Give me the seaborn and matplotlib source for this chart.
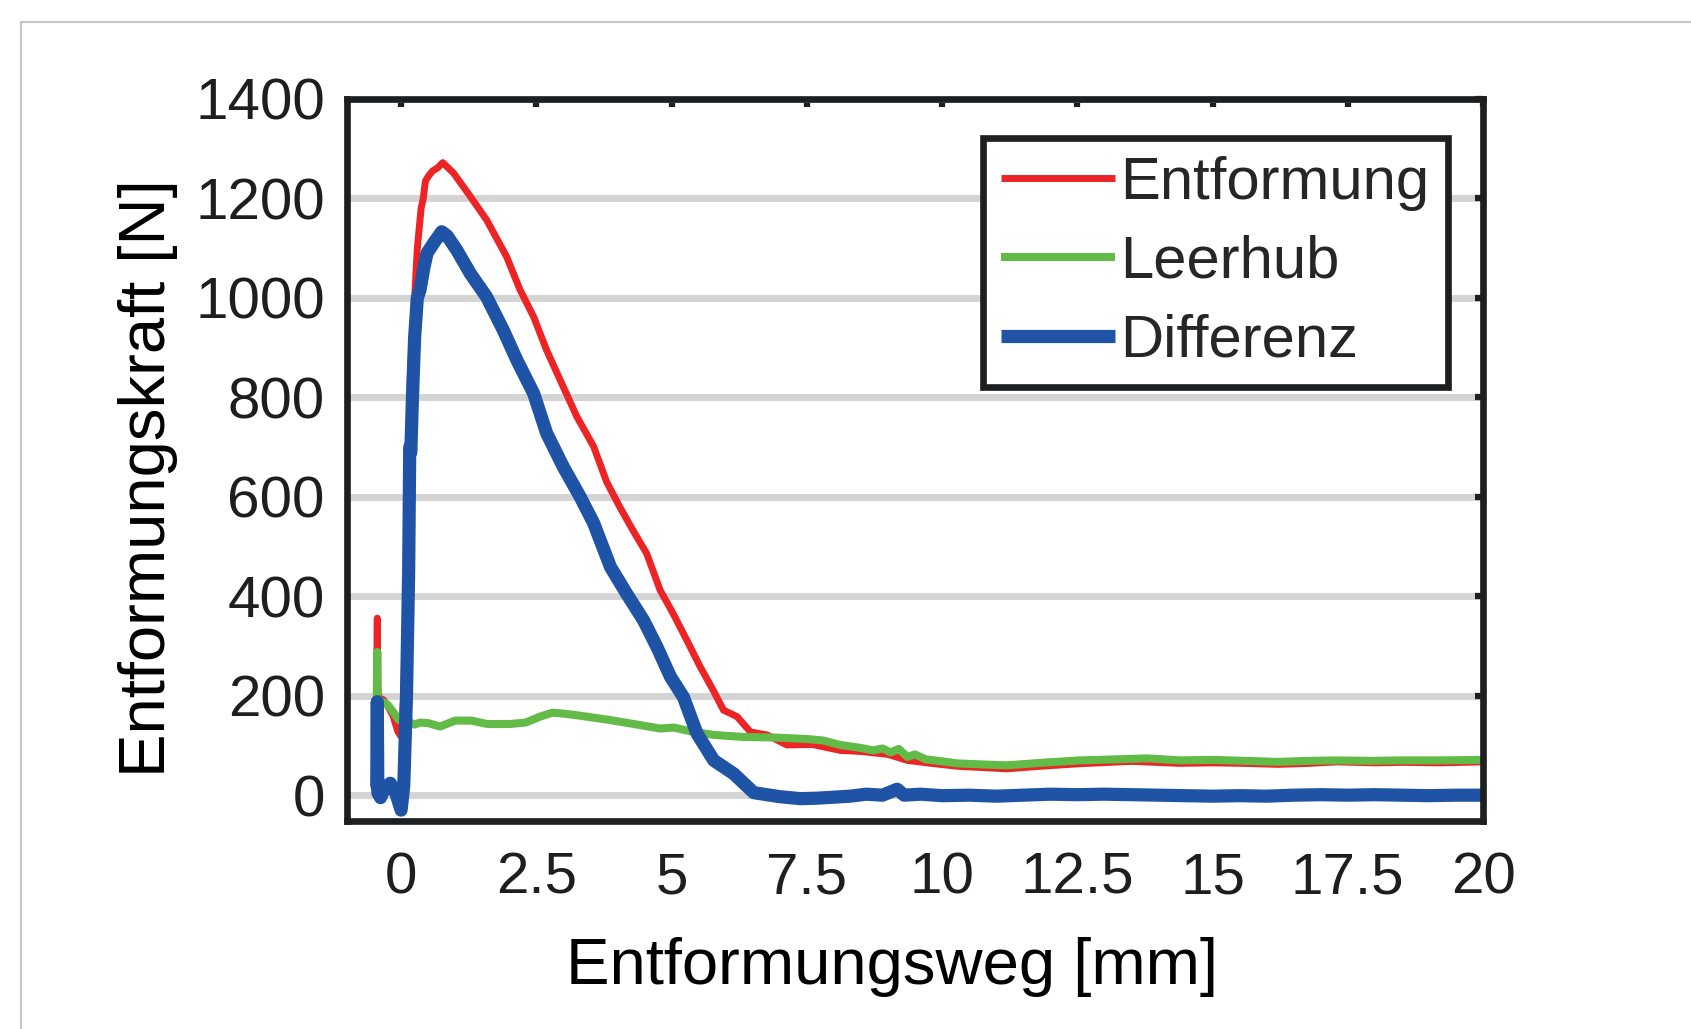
import matplotlib
matplotlib.use("Agg")
import matplotlib.pyplot as plt
import matplotlib.patches as mpatches
import seaborn as sns

# Entformung (rot)
red_x = [-0.45, -0.44, -0.43, -0.40, -0.33, -0.25, -0.15, -0.06, 0.0, 0.05,
         0.10, 0.14, 0.17, 0.20, 0.25, 0.30, 0.37, 0.41, 0.45, 0.50,
         0.58, 0.68, 0.77, 0.97, 1.28, 1.58, 1.95, 2.20, 2.45, 2.69,
         2.94, 3.25, 3.56, 3.80, 4.05, 4.30, 4.54, 4.79, 5.03, 5.28,
         5.53, 5.75, 5.96, 6.21, 6.46, 6.77, 7.13, 7.6, 8.12, 8.5,
         9.0, 9.36, 9.8, 10.3, 11.2, 11.8, 12.5, 13.5, 14.4, 15.0,
         15.6, 16.2, 16.8, 17.3, 18.0, 18.5, 19.2, 20.0]
red_y = [250, 356, 210, 195, 192, 180, 160, 128, 118, 200,
         450, 700, 840, 900, 1000, 1100, 1180, 1200, 1235, 1244,
         1255, 1262, 1272, 1251, 1204, 1157, 1083, 1016, 962, 895,
         835, 761, 701, 630, 578, 530, 486, 412, 365, 312,
         258, 215, 171, 158, 127, 121, 101, 102, 90, 88,
         82, 70, 64, 58, 53, 58, 63, 68, 64, 65,
         64, 62, 64, 67, 65, 66, 65, 67]

# Leerhub (grün)
green_x = [-0.45, -0.44, -0.43, -0.35, -0.25, -0.15, -0.05, 0.05, 0.15, 0.25,
           0.35, 0.5, 0.72, 1.0, 1.3, 1.6, 2.0, 2.3, 2.57, 2.8,
           3.0, 3.3, 3.87, 4.2, 4.79, 5.04, 5.41, 5.8, 6.33, 6.89,
           7.5, 7.8, 8.12, 8.5, 8.73, 8.9, 9.05, 9.2, 9.36, 9.5,
           9.7, 10.0, 10.28, 10.7, 11.2, 11.82, 12.55, 13.2, 13.79, 14.4,
           15.0, 15.6, 16.2, 16.8, 17.3, 17.9, 18.5, 19.2, 20.0]
green_y = [200, 288, 190, 188, 182, 168, 152, 150, 147, 142,
           146, 145, 138, 150, 150, 143, 143, 146, 158, 166,
           164, 160, 151, 145, 134, 136, 127, 121, 117, 116,
           113, 110, 101, 95, 90, 94, 86, 93, 77, 82,
           72, 68, 64, 62, 60, 65, 70, 72, 74, 70,
           71, 69, 67, 69, 70, 69, 70, 70, 71]

# Differenz (blau)
blue_x = [-0.45, -0.44, -0.43, -0.38, -0.3, -0.2, -0.1, 0.0, 0.05, 0.10,
          0.14, 0.16, 0.18, 0.21, 0.25, 0.30, 0.35, 0.42, 0.48, 0.6,
          0.75, 0.85, 1.03, 1.28, 1.58, 1.89, 2.14, 2.45, 2.69, 3.0,
          3.31, 3.56, 3.87, 4.17, 4.48, 4.73, 4.98, 5.22, 5.47, 5.78,
          6.15, 6.52, 7.0, 7.38, 7.7, 8.0, 8.3, 8.6, 8.9, 9.17,
          9.3, 9.6, 10.0, 10.5, 11.0, 11.5, 12.0, 12.5, 13.0, 13.5,
          14.0, 14.5, 15.0, 15.5, 16.0, 16.5, 17.0, 17.5, 18.0, 18.5,
          19.0, 19.5, 20.0]
blue_y = [20, 188, 5, -5, 15, 24, 5, -30, 20, 200,
          450, 700, 690, 800, 920, 1000, 1016, 1060, 1090, 1110,
          1133, 1125, 1096, 1049, 1002, 935, 875, 808, 728, 660,
          600, 547, 459, 405, 352, 298, 238, 197, 124, 70,
          43, 5, -3, -7, -6, -4, -2, 2, 0, 12,
          0, 2, -1, 0, -2, 0, 2, 1, 2, 1,
          0, -1, -2, -1, -2, 0, 1, 0, 1, 0,
          -1, 0, 0]

x_ticks = [0, 2.5, 5, 7.5, 10, 12.5, 15, 17.5, 20]
x_ticklabels = ["0", "2.5", "5", "7.5", "10", "12.5", "15", "17.5", "20"]
y_ticks = [0, 200, 400, 600, 800, 1000, 1200, 1400]

sns.set_theme(style="white")
plt.rcParams["font.family"] = ["Liberation Sans", "DejaVu Sans"]

fig = plt.figure(figsize=(16.91, 10.29), dpi=100)
ax = fig.add_axes([0.2052, 0.2021, 0.6718, 0.7017])

# grauer Rahmen um die Abbildung
fig.patches.append(mpatches.Rectangle((0.0124, -0.5), 2.0, 1.4786, transform=fig.transFigure,
                                      fill=False, edgecolor="#c6c6c9", linewidth=1.6))

kw = dict(ax=ax, estimator=None, sort=False, solid_capstyle="round")
sns.lineplot(x=red_x, y=red_y, color="#ec2426", linewidth=5.0, label="Entformung", **kw)
sns.lineplot(x=green_x, y=green_y, color="#62bb46", linewidth=5.8, label="Leerhub", **kw)
sns.lineplot(x=blue_x, y=blue_y, color="#1f53a5", linewidth=9.5, label="Differenz", **kw)

ax.set_xlim(-1, 20)
ax.set_ylim(-52, 1400)
ax.set_xticks(x_ticks)
ax.set_xticklabels(x_ticklabels)
ax.set_yticks(y_ticks)

ax.grid(axis="y", color="#d4d4d4", linewidth=5)
ax.set_axisbelow(True)
for s in ax.spines.values():
    s.set_color("#1c1e20")
    s.set_linewidth(4.8)
ax.tick_params(direction="in", length=6, width=4.5, colors="#1c1e20",
               top=True, right=True, labelsize=42, labelcolor="#1c1e20")
ax.tick_params(axis="y", pad=16)
ax.tick_params(axis="x", pad=22)

ax.set_xlabel("Entformungsweg [mm]", fontsize=47, color="black")
ax.set_ylabel("Entformungskraft [N]", fontsize=47, color="black")
ax.xaxis.set_label_coords(0.48, -0.16)
ax.yaxis.set_label_coords(-0.149, 0.475)

leg = ax.legend(loc="upper left", bbox_to_anchor=(0.56, 0.946), fontsize=43,
                frameon=True, fancybox=False, framealpha=1, edgecolor="#1c1e20",
                handlelength=1.9, handletextpad=0.1, labelspacing=0.4,
                borderpad=0.3, borderaxespad=0)
leg.get_frame().set_linewidth(4.8)
for line in leg.get_lines():
    line.set_solid_capstyle("butt")

fig.savefig("out.png", dpi=100)
